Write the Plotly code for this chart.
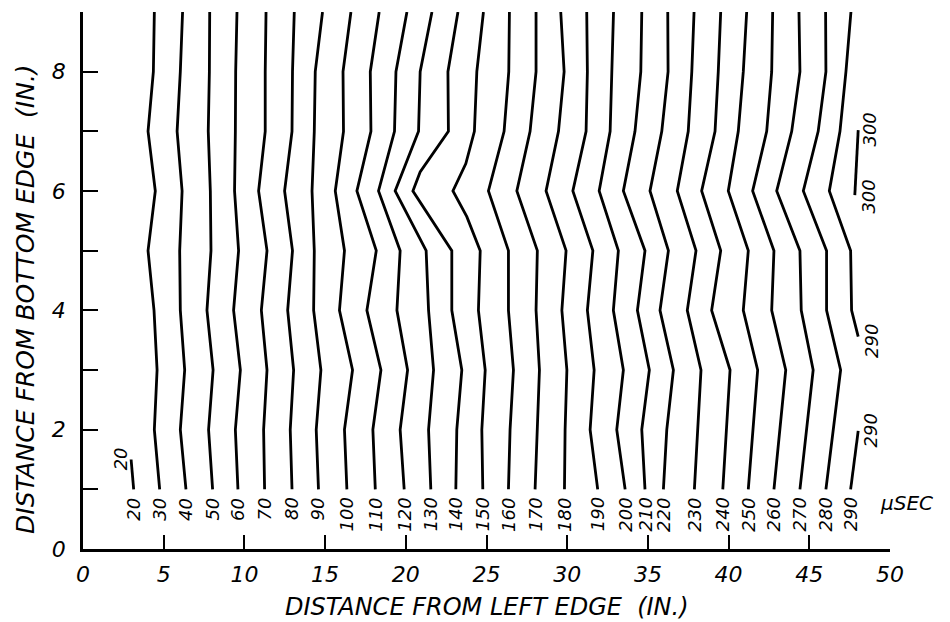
import plotly.graph_objects as go

# ---------------- data ----------------
# Isochrone (arrival-time) lines, in microseconds, with x positions (in.)
# at the integer heights y = 1 ... 9 (in.)
Y_LEVELS = [1, 2, 3, 4, 5, 6, 7, 8, 9]

TIMES_REGULAR = [30, 40, 50, 60, 70, 80, 90, 100, 110, 120, 130,
                 160, 170, 180, 190, 200, 210, 220, 230, 240, 250, 260, 270, 280]

X_REGULAR = [
    [4.75, 4.42, 4.59, 4.40, 4.03, 4.48, 4.03, 4.36, 4.42],        # 30
    [6.38, 6.03, 6.30, 6.03, 5.99, 6.14, 5.83, 6.03, 6.17],        # 40
    [8.03, 7.78, 8.06, 7.68, 7.93, 7.89, 7.76, 7.83, 7.85],        # 50
    [9.60, 9.44, 9.75, 9.33, 9.64, 9.39, 9.44, 9.46, 9.54],        # 60
    [11.25, 11.19, 11.40, 11.05, 11.40, 10.88, 11.29, 11.29, 11.34],  # 70
    [12.95, 12.84, 13.05, 12.68, 12.98, 12.49, 12.95, 12.98, 13.09],  # 80
    [14.59, 14.45, 14.74, 14.29, 14.33, 14.19, 14.33, 14.39, 14.84],  # 90
    [16.35, 16.20, 16.70, 15.89, 16.20, 15.63, 16.14, 16.11, 16.60],  # 100
    [18.11, 17.96, 18.46, 17.59, 18.17, 16.97, 17.84, 17.80, 18.35],  # 110
    [19.90, 19.65, 20.11, 19.45, 19.65, 18.31, 19.30, 19.39, 20.07],  # 120
    [21.55, 21.41, 21.72, 21.41, 21.26, 19.34, 20.79, 20.89, 21.62],  # 130
    [26.36, 26.46, 26.67, 26.36, 26.36, 25.12, 26.09, 26.38, 26.42],  # 160
    [28.01, 28.15, 28.28, 28.07, 28.15, 26.88, 27.70, 28.07, 28.07],  # 170
    [29.83, 29.87, 29.98, 29.67, 29.93, 28.69, 29.46, 29.81, 29.60],  # 180
    [31.89, 31.42, 31.67, 31.25, 31.59, 30.35, 31.17, 31.25, 31.21],  # 190
    [33.59, 33.07, 33.48, 32.86, 33.17, 31.98, 32.66, 32.78, 32.87],  # 200
    [34.82, 34.62, 35.09, 34.35, 34.82, 33.48, 34.20, 34.56, 34.62],  # 210
    [35.96, 36.17, 36.58, 35.75, 36.27, 35.13, 35.86, 36.25, 36.23],  # 220
    [37.88, 38.09, 38.29, 37.44, 37.98, 36.82, 37.50, 37.72, 37.86],  # 230
    [39.64, 39.88, 40.09, 38.95, 39.51, 38.33, 39.16, 39.36, 39.51],  # 240
    [41.22, 41.49, 41.80, 40.91, 41.22, 39.98, 40.60, 40.91, 41.12],  # 250
    [42.81, 43.18, 43.54, 42.67, 42.81, 41.49, 42.36, 42.67, 42.73],  # 260
    [44.42, 44.84, 45.24, 44.50, 44.42, 42.98, 43.91, 44.42, 44.36],  # 270
    [46.03, 46.48, 46.94, 46.07, 46.07, 44.63, 45.55, 46.03, 46.01],  # 280
]

# lines with extra vertices / partial extent
Y_140 = [1, 2, 3, 4, 5, 6, 6.32, 7, 8, 9]
X_140 = [23.10, 23.16, 23.47, 22.85, 22.85, 20.44, 20.89, 22.64, 22.61, 23.23]

Y_150 = [1, 2, 3, 4, 5, 5.57, 6, 6.46, 7, 8, 9]
X_150 = [24.77, 24.71, 24.92, 24.50, 24.61, 23.78, 22.92, 23.72, 24.25, 24.40, 24.81]

Y_20 = [1.0, 1.5]
X_20 = [3.14, 2.98]

Y_290_UPPER = [3.56, 4, 5, 6, 7, 8, 9]
X_290_UPPER = [48.03, 47.62, 47.56, 46.24, 46.90, 47.27, 47.58]

Y_290_LOWER = [1.0, 1.98]
X_290_LOWER = [47.56, 48.03]

Y_300 = [5.93, 7.02]
X_300 = [47.82, 48.03]

# extra labels placed next to the partial lines: (text, x, y)
EXTRA_LABELS = [
    ("20", 2.32, 1.51),
    ("290", 48.86, 3.48),
    ("290", 48.80, 1.98),
    ("300", 48.76, 7.03),
    ("300", 48.65, 5.91),
]

X_TICKS = [0, 5, 10, 15, 20, 25, 30, 35, 40, 45, 50]
Y_TICKS = [0, 1, 2, 3, 4, 5, 6, 7, 8, 9]
Y_TICK_TEXT = ["0", "", "2", "", "4", "", "6", "", "8", ""]

X_TITLE = "DISTANCE FROM LEFT EDGE  (IN.)"
Y_TITLE = "DISTANCE FROM BOTTOM EDGE  (IN.)"
UNIT_LABEL = "\u03bcSEC"
UNIT_POS = (51.05, 0.77)

# ---------------- figure ----------------
FONT = "DejaVu Sans"
LINE = dict(color="black", width=2.8)
X_RANGE = [0, 50]
Y_RANGE = [0, 9]

fig = go.Figure()

bottom_labels = []  # (time, x at y=1)

def add_line(xs, ys):
    fig.add_trace(go.Scatter(x=xs, y=ys, mode="lines", line=LINE,
                             hoverinfo="skip", showlegend=False))

add_line(X_20, Y_20)
bottom_labels.append((20, X_20[0]))

all_lines = []
for t, xs in zip(TIMES_REGULAR, X_REGULAR):
    all_lines.append((t, xs, Y_LEVELS))
all_lines.append((140, X_140, Y_140))
all_lines.append((150, X_150, Y_150))
all_lines.sort(key=lambda r: r[0])
for t, xs, ys in all_lines:
    add_line(xs, ys)
    bottom_labels.append((t, xs[0]))

add_line(X_290_UPPER, Y_290_UPPER)
add_line(X_290_LOWER, Y_290_LOWER)
bottom_labels.append((290, X_290_LOWER[0]))
add_line(X_300, Y_300)

lab_font = dict(family=FONT, size=18, color="black", style="italic")

for t, x in bottom_labels:
    fig.add_annotation(x=x, y=0.88, xref="x", yref="y", text=str(t),
                       showarrow=False, textangle=-90, xanchor="center",
                       yanchor="top", font=lab_font, borderpad=0)

for txt, x, y in EXTRA_LABELS:
    fig.add_annotation(x=x, y=y, xref="x", yref="y", text=txt,
                       showarrow=False, textangle=-90, xanchor="center",
                       yanchor="middle", font=lab_font, borderpad=0)

# unit label sits outside the x range -> place it in paper coordinates
ux = (UNIT_POS[0] - X_RANGE[0]) / (X_RANGE[1] - X_RANGE[0])
uy = (UNIT_POS[1] - Y_RANGE[0]) / (Y_RANGE[1] - Y_RANGE[0])
fig.add_annotation(x=ux, y=uy, xref="paper", yref="paper", text=UNIT_LABEL,
                   showarrow=False, xanchor="center", yanchor="middle",
                   font=dict(family=FONT, size=20, color="black", style="italic"))

title_font = dict(family=FONT, size=24, color="black", style="italic")
fig.add_annotation(x=0.5, y=-0.108, xref="paper", yref="paper", text=X_TITLE,
                   showarrow=False, xanchor="center", yanchor="middle",
                   font=title_font)
fig.add_annotation(x=-0.071, y=0.465, xref="paper", yref="paper", text=Y_TITLE,
                   showarrow=False, xanchor="center", yanchor="middle",
                   textangle=-90, font=dict(family=FONT, size=25, color="black",
                                            style="italic"))

tick_font = dict(family=FONT, size=22, color="black", style="italic")

fig.update_xaxes(range=X_RANGE, tickvals=X_TICKS, ticktext=[str(v) for v in X_TICKS],
                 ticks="inside", ticklen=14, tickwidth=2, tickcolor="black",
                 showline=True, linecolor="black", linewidth=2.5,
                 showgrid=False, zeroline=False, tickfont=tick_font,
                 ticklabelstandoff=4)
fig.update_yaxes(range=Y_RANGE, tickvals=Y_TICKS, ticktext=Y_TICK_TEXT,
                 ticks="inside", ticklen=15, tickwidth=2, tickcolor="black",
                 showline=True, linecolor="black", linewidth=2.5,
                 showgrid=False, zeroline=False, tickfont=tick_font,
                 ticklabelstandoff=10)

fig.update_layout(width=950, height=622,
                  margin=dict(l=83, r=60, t=12, b=73),
                  paper_bgcolor="white", plot_bgcolor="white",
                  showlegend=False)

fig.write_html("out.html")
